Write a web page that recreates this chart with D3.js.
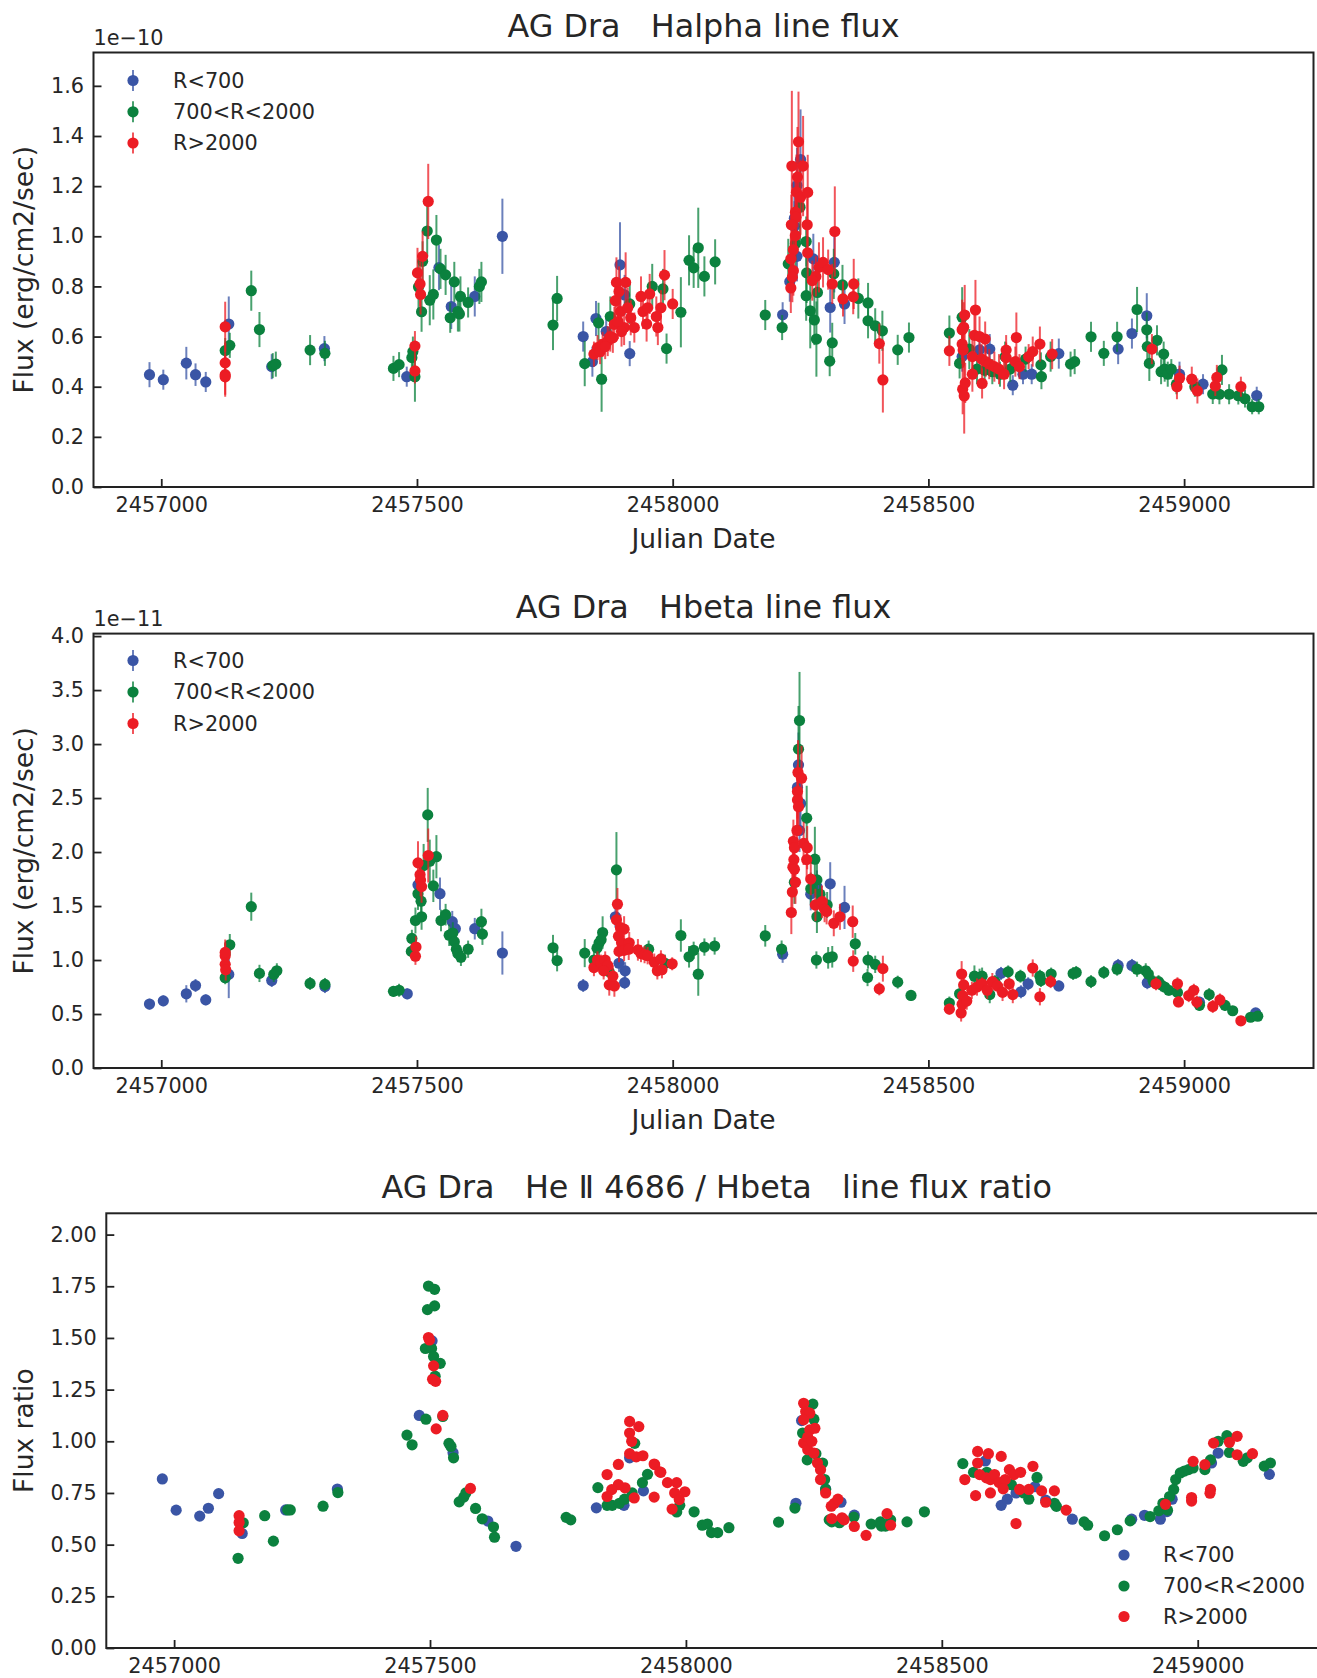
<!DOCTYPE html>
<html><head><meta charset="utf-8">
<script src="https://cdn.jsdelivr.net/npm/d3@7"></script>
<style>
body{margin:0;background:#fff}
svg{display:block;background:#fff}
text{font-family:"DejaVu Sans",sans-serif;fill:#262626;white-space:pre}
</style>
</head><body>
<svg id="chart" width="1317" height="1678" xmlns="http://www.w3.org/2000/svg"></svg>
<script>
// ---------------- DATA ----------------
const seriesNames = ["R<700", "700<R<2000", "R>2000"];
const seriesColors = ["#3a55a5", "#0b813e", "#ec1c24"];
const xTicks = [2457000, 2457500, 2458000, 2458500, 2459000];
const xDomain = [2456867.5, 2459253];

const titles = [
  "AG Dra   Halpha line flux",
  "AG Dra   Hbeta line flux",
  "AG Dra   He \u2161 4686 / Hbeta   line flux ratio"
];
const yLabels = ["Flux (erg/cm2/sec)", "Flux (erg/cm2/sec)", "Flux ratio"];
const offsetTexts = ["1e\u221210", "1e\u221211", ""];
const halphaTicks = [0.0, 0.2, 0.4, 0.6, 0.8, 1.0, 1.2, 1.4, 1.6];
const hbetaTicks = [0.0, 0.5, 1.0, 1.5, 2.0, 2.5, 3.0, 3.5, 4.0];
const ratioTicks = [0.00, 0.25, 0.50, 0.75, 1.00, 1.25, 1.50, 1.75, 2.00];

// Halpha flux, units of 1e-10: [JD, flux, error]
const halphaBlue = [
 [2456977,0.448,0.05],[2457004,0.428,0.04],[2457049,0.494,0.065],[2457067,0.448,0.045],[2457087,0.419,0.04],
 [2457132,0.65,0.11],[2457216,0.48,0.05],[2457319,0.552,0.05],[2457480,0.44,0.04],[2457543,0.875,0.09],
 [2457567,0.72,0.09],[2457613,0.76,0.08],[2457667,1.0,0.15],[2457825,0.6,0.06],[2457850,0.672,0.07],
 [2457843,0.50,0.06],[2457870,0.62,0.06],[2457897,0.886,0.17],[2457906,0.766,0.08],[2457916,0.532,0.05],
 [2458215,0.687,0.05],[2458250,1.306,0.2],[2458243,1.203,0.15],[2458238,1.072,0.12],[2458238,1.04,0.1],
 [2458243,0.92,0.1],[2458229,0.819,0.08],[2458275,0.91,0.1],[2458316,0.896,0.12],[2458308,0.716,0.1],
 [2458336,0.73,0.08],[2458566,0.52,0.06],[2458600,0.547,0.06],[2458620,0.55,0.06],[2458665,0.406,0.04],
 [2458685,0.45,0.04],[2458702,0.45,0.04],[2458755,0.532,0.06],[2458871,0.55,0.06],[2458898,0.612,0.06],
 [2458927,0.683,0.09],[2458991,0.45,0.05],[2459037,0.41,0.04],[2459142,0.365,0.035]
];
const halphaGreen = [
 [2457125,0.544,0.05],[2457134,0.565,0.05],[2457176,0.783,0.08],[2457192,0.628,0.07],[2457218,0.484,0.05],
 [2457224,0.49,0.05],[2457291,0.546,0.06],[2457320,0.533,0.05],[2457454,0.473,0.05],[2457465,0.488,0.05],
 [2457490,0.516,0.06],[2457492,0.54,0.06],[2457496,0.44,0.1],[2457503,0.798,0.1],[2457509,0.699,0.08],
 [2457511,0.90,0.08],[2457520,1.021,0.1],[2457525,0.745,0.1],[2457532,0.768,0.1],[2457538,0.985,0.1],
 [2457546,0.87,0.08],[2457556,0.846,0.08],[2457565,0.675,0.06],[2457573,0.818,0.08],[2457580,0.70,0.08],
 [2457583,0.69,0.07],[2457585,0.76,0.08],[2457600,0.736,0.06],[2457622,0.80,0.07],[2457626,0.818,0.08],
 [2457766,0.646,0.1],[2457774,0.752,0.09],[2457828,0.492,0.09],[2457855,0.655,0.08],[2457861,0.43,0.13],
 [2457878,0.68,0.08],[2457916,0.73,0.08],[2457960,0.80,0.09],[2457981,0.79,0.08],[2457988,0.552,0.06],
 [2458016,0.697,0.14],[2458032,0.904,0.1],[2458041,0.874,0.08],[2458050,0.954,0.16],[2458062,0.84,0.08],
 [2458083,0.898,0.09],[2458181,0.686,0.06],[2458214,0.636,0.05],[2458249,1.116,0.15],[2458261,0.979,0.1],
 [2458240,0.97,0.1],[2458226,0.89,0.1],[2458261,0.763,0.1],[2458262,0.854,0.12],[2458269,0.703,0.15],
 [2458277,0.666,0.1],[2458283,0.776,0.1],[2458281,0.59,0.15],[2458312,0.575,0.08],[2458307,0.502,0.06],
 [2458315,0.85,0.1],[2458332,0.806,0.08],[2458363,0.752,0.08],[2458382,0.734,0.08],[2458382,0.663,0.07],
 [2458396,0.643,0.07],[2458410,0.623,0.08],[2458440,0.547,0.06],[2458462,0.596,0.06],[2458541,0.614,0.07],
 [2458561,0.493,0.06],[2458566,0.677,0.12],[2458580,0.55,0.08],[2458595,0.47,0.06],[2458610,0.465,0.06],
 [2458625,0.46,0.05],[2458640,0.45,0.05],[2458650,0.52,0.06],[2458660,0.47,0.05],[2458690,0.51,0.05],
 [2458720,0.487,0.05],[2458721,0.44,0.05],[2458739,0.52,0.06],[2458778,0.49,0.05],[2458786,0.50,0.05],
 [2458818,0.599,0.06],[2458843,0.533,0.05],[2458869,0.599,0.06],[2458908,0.708,0.09],[2458927,0.627,0.07],
 [2458928,0.56,0.06],[2458932,0.493,0.07],[2458947,0.585,0.06],[2458955,0.46,0.05],[2458962,0.47,0.05],
 [2458968,0.45,0.05],[2458975,0.47,0.04],[2458960,0.53,0.05],[2458985,0.41,0.04],[2459021,0.40,0.04],
 [2459056,0.371,0.04],[2459069,0.37,0.04],[2459074,0.467,0.06],[2459088,0.37,0.04],[2459106,0.364,0.035],
 [2459119,0.352,0.035],[2459133,0.32,0.03],[2459146,0.32,0.03]
];
const halphaRed = [
 [2457125,0.639,0.1],[2457125,0.495,0.08],[2457125,0.448,0.08],[2457125,0.44,0.08],[2457496,0.562,0.06],
 [2457496,0.463,0.05],[2457501,0.854,0.1],[2457506,0.81,0.09],[2457507,0.768,0.08],[2457511,0.92,0.1],
 [2457522,1.139,0.15],[2457846,0.53,0.05],[2457853,0.556,0.05],[2457863,0.569,0.05],[2457873,0.582,0.06],
 [2457883,0.595,0.06],[2457886,0.649,0.07],[2457888,0.743,0.08],[2457890,0.816,0.1],[2457895,0.78,0.1],
 [2457898,0.70,0.08],[2457905,0.636,0.07],[2457908,0.816,0.12],[2457912,0.715,0.08],[2457918,0.675,0.07],
 [2457925,0.636,0.06],[2457938,0.76,0.08],[2457942,0.70,0.07],[2457949,0.65,0.07],[2457951,0.715,0.07],
 [2457955,0.77,0.08],[2457968,0.68,0.08],[2457971,0.636,0.07],[2457977,0.715,0.07],[2457984,0.845,0.1],
 [2458000,0.73,0.06],[2457858,0.54,0.05],[2457868,0.56,0.05],[2457878,0.60,0.06],[2457893,0.66,0.07],
 [2457900,0.62,0.06],[2458246,1.377,0.2],[2458233,1.28,0.3],[2458255,1.28,0.2],[2458244,1.236,0.2],
 [2458242,1.176,0.15],[2458250,1.156,0.15],[2458264,1.175,0.15],[2458240,1.096,0.15],[2458241,1.076,0.12],
 [2458232,1.046,0.12],[2458263,1.046,0.12],[2458240,1.003,0.1],[2458236,0.946,0.1],[2458264,0.934,0.1],
 [2458231,0.91,0.1],[2458236,0.863,0.1],[2458234,0.837,0.1],[2458231,0.794,0.1],[2458286,0.876,0.1],
 [2458294,0.896,0.1],[2458304,0.867,0.08],[2458280,0.84,0.08],[2458273,0.823,0.08],[2458317,1.019,0.18],
 [2458312,0.81,0.08],[2458333,0.75,0.07],[2458354,0.81,0.1],[2458353,0.759,0.07],[2458404,0.572,0.08],
 [2458411,0.427,0.13],[2458541,0.543,0.06],[2458566,0.627,0.12],[2458571,0.686,0.12],[2458569,0.637,0.1],
 [2458566,0.57,0.08],[2458568,0.546,0.07],[2458567,0.39,0.1],[2458570,0.363,0.15],[2458572,0.415,0.08],
 [2458586,0.52,0.08],[2458586,0.45,0.07],[2458592,0.706,0.12],[2458590,0.605,0.1],[2458600,0.60,0.08],
 [2458611,0.59,0.07],[2458604,0.51,0.06],[2458612,0.50,0.06],[2458619,0.49,0.06],[2458629,0.48,0.06],
 [2458638,0.47,0.06],[2458648,0.45,0.06],[2458605,0.413,0.06],[2458652,0.546,0.06],[2458652,0.516,0.06],
 [2458672,0.596,0.1],[2458670,0.50,0.06],[2458678,0.48,0.05],[2458696,0.52,0.05],[2458704,0.54,0.06],
 [2458718,0.57,0.07],[2458742,0.53,0.06],[2458937,0.55,0.06],[2458991,0.434,0.05],[2458986,0.40,0.05],
 [2459015,0.43,0.05],[2459026,0.383,0.05],[2459064,0.437,0.05],[2459061,0.403,0.04],[2459111,0.40,0.04]
];

// Hbeta flux, units of 1e-11: [JD, flux, error]
const hbetaBlue = [
 [2456977,0.592,0.05],[2457004,0.622,0.05],[2457049,0.687,0.08],[2457067,0.764,0.06],[2457087,0.631,0.05],
 [2457132,0.867,0.22],[2457216,0.81,0.06],[2457320,0.754,0.06],[2457481,0.687,0.05],[2457502,1.696,0.1],
 [2457545,1.614,0.15],[2457569,1.355,0.1],[2457575,1.29,0.1],[2457613,1.29,0.1],[2457667,1.065,0.2],
 [2457825,0.764,0.06],[2457888,1.40,0.1],[2457906,0.79,0.06],[2457907,0.9,0.08],[2457895,0.97,0.08],
 [2458215,1.054,0.08],[2458246,2.807,0.3],[2458244,2.60,0.2],[2458250,2.45,0.2],[2458248,2.2,0.2],
 [2458270,1.61,0.15],[2458282,1.68,0.15],[2458308,1.706,0.2],[2458336,1.487,0.2],[2458642,0.876,0.06],
 [2458681,0.706,0.06],[2458695,0.78,0.06],[2458755,0.76,0.05],[2458871,0.95,0.06],[2458898,0.95,0.06],
 [2458928,0.79,0.06],[2459030,0.61,0.05],[2459140,0.51,0.04]
];
const hbetaGreen = [
 [2457125,0.836,0.06],[2457134,1.141,0.1],[2457176,1.494,0.13],[2457192,0.876,0.08],[2457220,0.867,0.07],
 [2457226,0.9,0.07],[2457291,0.783,0.06],[2457320,0.774,0.06],[2457454,0.71,0.05],[2457465,0.72,0.06],
 [2457490,1.2,0.08],[2457489,1.08,0.06],[2457497,1.366,0.12],[2457502,1.614,0.15],[2457508,1.545,0.15],
 [2457509,1.4,0.12],[2457513,1.875,0.2],[2457521,2.344,0.25],[2457525,1.915,0.2],[2457532,1.687,0.15],
 [2457538,1.957,0.2],[2457547,1.366,0.1],[2457556,1.42,0.1],[2457563,1.23,0.1],[2457570,1.25,0.1],
 [2457573,1.17,0.1],[2457577,1.10,0.08],[2457580,1.06,0.08],[2457586,1.025,0.08],[2457600,1.10,0.08],
 [2457626,1.355,0.12],[2457628,1.24,0.1],[2457766,1.113,0.12],[2457774,0.995,0.1],[2457828,1.064,0.13],
 [2457846,1.0,0.08],[2457852,1.11,0.1],[2457856,1.157,0.12],[2457863,1.255,0.15],[2457860,1.187,0.1],
 [2457890,1.835,0.35],[2457876,0.89,0.08],[2457953,1.1,0.08],[2457985,0.97,0.08],[2458016,1.227,0.15],
 [2458032,1.03,0.1],[2458041,1.09,0.08],[2458050,0.869,0.2],[2458062,1.12,0.08],[2458082,1.13,0.08],
 [2458181,1.224,0.1],[2458213,1.101,0.08],[2458248,3.218,0.45],[2458246,2.953,0.4],[2458262,2.314,0.3],
 [2458278,1.934,0.3],[2458238,1.72,0.2],[2458282,1.742,0.2],[2458270,1.66,0.15],[2458288,1.61,0.15],
 [2458302,1.51,0.12],[2458282,1.40,0.15],[2458357,1.15,0.1],[2458281,1.0,0.08],[2458304,1.02,0.1],
 [2458312,1.03,0.1],[2458382,1.0,0.08],[2458396,0.96,0.08],[2458381,0.838,0.08],[2458440,0.795,0.06],
 [2458466,0.672,0.05],[2458541,0.602,0.06],[2458561,0.687,0.08],[2458590,0.85,0.1],[2458600,0.84,0.08],
 [2458605,0.85,0.08],[2458620,0.68,0.08],[2458630,0.80,0.06],[2458656,0.89,0.06],[2458680,0.85,0.06],
 [2458718,0.85,0.06],[2458720,0.81,0.06],[2458740,0.87,0.06],[2458783,0.875,0.06],[2458789,0.885,0.06],
 [2458818,0.80,0.06],[2458843,0.885,0.06],[2458869,0.915,0.06],[2458908,0.915,0.07],[2458925,0.9,0.07],
 [2458930,0.87,0.07],[2458940,0.80,0.06],[2458950,0.80,0.06],[2458955,0.77,0.06],[2458962,0.75,0.05],
 [2458970,0.72,0.05],[2458987,0.70,0.05],[2459030,0.58,0.05],[2459049,0.68,0.06],[2459080,0.58,0.05],
 [2459095,0.53,0.04],[2459130,0.47,0.04],[2459144,0.48,0.04]
];
const hbetaRed = [
 [2457125,1.04,0.12],[2457125,0.96,0.1],[2457126,0.91,0.1],[2457125,1.07,0.12],[2457497,1.035,0.08],
 [2457498,1.12,0.1],[2457502,1.9,0.2],[2457506,1.79,0.15],[2457507,1.74,0.15],[2457509,1.68,0.15],
 [2457522,1.968,0.25],[2457892,1.517,0.15],[2457890,1.372,0.15],[2457898,1.30,0.12],[2457905,1.286,0.12],
 [2457894,1.22,0.1],[2457900,1.16,0.1],[2457915,1.16,0.1],[2457895,1.08,0.1],[2457905,1.09,0.1],
 [2457914,1.10,0.1],[2457932,1.094,0.1],[2457938,1.06,0.08],[2457945,1.05,0.08],[2457951,1.04,0.08],
 [2457964,0.98,0.08],[2457970,0.90,0.08],[2457977,1.01,0.08],[2457979,0.91,0.08],[2457999,0.965,0.06],
 [2457846,0.93,0.08],[2457853,1.0,0.08],[2457860,0.97,0.08],[2457868,1.0,0.08],[2457873,0.95,0.08],
 [2457865,0.9,0.08],[2457876,0.77,0.1],[2457886,0.76,0.1],[2457883,0.85,0.1],[2458245,2.736,0.3],
 [2458252,2.684,0.3],[2458244,2.56,0.25],[2458244,2.483,0.25],[2458246,2.42,0.2],[2458243,2.2,0.2],
 [2458236,2.1,0.2],[2458238,2.04,0.2],[2458256,2.08,0.2],[2458263,2.04,0.2],[2458262,1.93,0.2],
 [2458237,1.93,0.2],[2458235,1.86,0.2],[2458238,1.84,0.2],[2458240,1.72,0.2],[2458234,1.63,0.2],
 [2458232,1.44,0.2],[2458270,1.75,0.15],[2458279,1.51,0.15],[2458292,1.54,0.15],[2458297,1.47,0.12],
 [2458301,1.45,0.12],[2458315,1.34,0.12],[2458327,1.40,0.12],[2458352,1.355,0.15],[2458353,0.99,0.1],
 [2458411,0.92,0.12],[2458404,0.733,0.06],[2458541,0.545,0.05],[2458564,0.51,0.08],[2458566,0.59,0.1],
 [2458565,0.87,0.12],[2458567,0.67,0.08],[2458569,0.77,0.1],[2458575,0.62,0.08],[2458585,0.72,0.08],
 [2458595,0.75,0.08],[2458605,0.78,0.06],[2458615,0.72,0.08],[2458625,0.80,0.08],[2458635,0.76,0.06],
 [2458645,0.70,0.08],[2458658,0.78,0.06],[2458665,0.68,0.08],[2458704,0.926,0.08],[2458718,0.66,0.08],
 [2458739,0.80,0.06],[2458945,0.78,0.06],[2458987,0.78,0.06],[2458989,0.612,0.05],[2459009,0.67,0.06],
 [2459019,0.72,0.06],[2459025,0.61,0.06],[2459056,0.57,0.06],[2459070,0.63,0.06],[2459111,0.437,0.04]
];

// He II 4686 / Hbeta ratio: [JD, ratio]
const ratioBlue = [
 [2456977,0.818],[2457004,0.667],[2457050,0.638],[2457067,0.676],[2457087,0.747],[2457133,0.554],
 [2457218,0.668],[2457319,0.769],[2457479,1.125],[2457504,1.486],[2457545,0.945],[2457613,0.614],
 [2457668,0.492],[2457825,0.678],[2457879,0.69],[2457917,0.76],[2457890,0.92],[2458215,0.70],
 [2458226,1.10],[2458273,0.77],[2458303,0.705],[2458329,0.643],[2458585,0.905],[2458616,0.69],
 [2458628,0.72],[2458645,0.75],[2458682,0.78],[2458703,0.715],[2458755,0.623],[2458871,0.623],
 [2458896,0.642],[2458927,0.623],[2458940,0.66],[2458950,0.72],[2459027,0.895],[2459040,0.943],[2459140,0.84]
];
const ratioGreen = [
 [2457125,0.434],[2457135,0.606],[2457177,0.64],[2457194,0.517],[2457222,0.668],[2457227,0.668],
 [2457291,0.686],[2457320,0.752],[2457455,1.03],[2457465,0.983],[2457492,1.107],[2457495,1.637],
 [2457497,1.751],[2457509,1.735],[2457509,1.655],[2457491,1.449],[2457503,1.449],[2457507,1.41],
 [2457520,1.377],[2457510,1.315],[2457525,1.12],[2457537,0.99],[2457541,0.975],[2457546,0.92],
 [2457557,0.707],[2457566,0.73],[2457570,0.75],[2457589,0.675],[2457602,0.625],[2457624,0.585],
 [2457626,0.536],[2457766,0.632],[2457775,0.62],[2457828,0.776],[2457846,0.69],[2457856,0.69],
 [2457870,0.70],[2457880,0.72],[2457895,0.75],[2457900,0.99],[2457915,0.80],[2457925,0.84],
 [2457988,0.69],[2457982,0.658],[2458016,0.659],[2458032,0.594],[2458042,0.60],[2458050,0.558],
 [2458062,0.558],[2458084,0.582],[2458181,0.609],[2458213,0.677],[2458248,1.18],[2458250,1.107],
 [2458228,1.04],[2458237,0.91],[2458254,0.94],[2458267,0.895],[2458271,0.815],[2458273,0.767],
 [2458280,0.62],[2458285,0.61],[2458300,0.606],[2458328,0.633],[2458362,0.60],[2458380,0.61],
 [2458382,0.59],[2458390,0.59],[2458400,0.62],[2458432,0.61],[2458466,0.659],[2458541,0.892],
 [2458562,0.85],[2458588,0.85],[2458620,0.80],[2458636,0.79],[2458670,0.72],[2458686,0.825],
 [2458660,0.75],[2458720,0.70],[2458724,0.685],[2458778,0.61],[2458785,0.594],[2458818,0.543],
 [2458843,0.572],[2458868,0.615],[2458907,0.636],[2458924,0.664],[2458932,0.70],[2458941,0.667],
 [2458945,0.733],[2458953,0.767],[2458957,0.815],[2458966,0.847],[2458974,0.856],[2458982,0.863],
 [2458991,0.871],[2459014,0.863],[2459025,0.91],[2459040,1.0],[2459057,1.027],[2459062,0.946],
 [2459089,0.903],[2459097,0.92],[2459130,0.88],[2459142,0.895]
];
const ratioRed = [
 [2457127,0.64],[2457127,0.607],[2457127,0.567],[2457497,1.502],[2457499,1.49],[2457507,1.365],
 [2457505,1.30],[2457511,1.29],[2457512,1.06],[2457525,1.125],[2457579,0.772],[2457846,0.839],
 [2457868,0.888],[2457890,1.096],[2457908,1.071],[2457890,1.04],[2457894,1.0],[2457890,0.94],
 [2457903,0.925],[2457916,0.93],[2457938,0.89],[2457951,0.85],[2457964,0.80],[2457982,0.80],
 [2457998,0.756],[2457973,0.672],[2457938,0.73],[2457978,0.75],[2457987,0.718],[2457899,0.726],
 [2457881,0.775],[2457868,0.79],[2457855,0.766],[2457846,0.733],[2457939,0.887],[2457949,0.852],
 [2458230,1.184],[2458234,1.144],[2458242,1.136],[2458230,1.104],[2458242,1.055],[2458252,1.063],
 [2458230,0.991],[2458238,0.959],[2458250,0.943],[2458257,0.895],[2458263,0.862],[2458263,0.815],
 [2458238,1.02],[2458246,1.0],[2458273,0.75],[2458284,0.686],[2458290,0.70],[2458297,0.72],
 [2458285,0.626],[2458305,0.63],[2458309,0.62],[2458329,0.588],[2458352,0.545],[2458393,0.65],
 [2458400,0.594],[2458545,0.815],[2458570,0.951],[2458591,0.94],[2458616,0.927],[2458570,0.895],
 [2458574,0.839],[2458587,0.823],[2458595,0.815],[2458603,0.839],[2458612,0.80],[2458624,0.815],
 [2458632,0.863],[2458641,0.839],[2458654,0.85],[2458678,0.879],[2458566,0.737],[2458595,0.75],
 [2458620,0.77],[2458645,0.602],[2458652,0.767],[2458670,0.767],[2458695,0.76],[2458720,0.76],
 [2458703,0.705],[2458743,0.667],[2458937,0.695],[2458988,0.711],[2458988,0.728],[2458991,0.903],
 [2459014,0.887],[2459025,0.767],[2459024,0.749],[2459031,0.991],[2459062,0.995],[2459077,1.024],
 [2459077,0.935],[2459107,0.94]
];

// ---------------- LAYOUT (built from the arrays above) ----------------
const panels = [
  {title: titles[0], ylab: yLabels[0], off: offsetTexts[0], ticks: halphaTicks, fmt: d3.format(".1f"),
   ymax: 1.733, left: 93.5, right: 1313.5, top: 52.5, bottom: 487, titleY: 36.5, xlabY: 548,
   series: [halphaBlue, halphaGreen, halphaRed], err: true,
   legend: {x: 133, tx: 173, ys: [80.5, 111.8, 143]}},
  {title: titles[1], ylab: yLabels[1], off: offsetTexts[1], ticks: hbetaTicks, fmt: d3.format(".1f"),
   ymax: 4.023, left: 93.5, right: 1313.5, top: 633.6, bottom: 1068, titleY: 618.2, xlabY: 1129,
   series: [hbetaBlue, hbetaGreen, hbetaRed], err: true,
   legend: {x: 133, tx: 173, ys: [660.5, 692, 723.5]}},
  {title: titles[2], ylab: yLabels[2], off: offsetTexts[2], ticks: ratioTicks, fmt: d3.format(".2f"),
   ymax: 2.103, left: 106.3, right: 1327.2, top: 1213.3, bottom: 1648, titleY: 1197.5, xlabY: null,
   series: [ratioBlue, ratioGreen, ratioRed], err: false,
   legend: {x: 1124, tx: 1163, ys: [1555, 1586, 1616.5]}}
];

const svg = d3.select("#chart");
svg.append("rect").attr("width", 1317).attr("height", 1678).attr("fill", "#fff");

const TICK_FS = 20.8, LABEL_FS = 26.5, TITLE_FS = 31.8, R = 5.6;

panels.forEach(p => {
  const x = d3.scaleLinear().domain(xDomain).range([p.left, p.right]);
  const y = d3.scaleLinear().domain([0, p.ymax]).range([p.bottom, p.top]);
  const g = svg.append("g");

  // data
  p.series.forEach((data, i) => {
    const col = seriesColors[i];
    if (p.err) {
      g.append("g").selectAll("line").data(data).enter().append("line")
        .attr("x1", d => x(d[0])).attr("x2", d => x(d[0]))
        .attr("y1", d => y(d[1] - d[2])).attr("y2", d => y(d[1] + d[2]))
        .attr("stroke", col).attr("stroke-width", 2).attr("stroke-opacity", 0.75);
    }
    g.append("g").selectAll("circle").data(data).enter().append("circle")
      .attr("cx", d => x(d[0])).attr("cy", d => y(d[1])).attr("r", R).attr("fill", col);
  });

  // axes
  const xa = g.append("g").attr("transform", `translate(0,${p.bottom})`)
    .call(d3.axisBottom(x).tickValues(xTicks).tickFormat(d3.format("d"))
      .tickSizeInner(-8).tickSizeOuter(0).tickPadding(10));
  const ya = g.append("g").attr("transform", `translate(${p.left},0)`)
    .call(d3.axisLeft(y).tickValues(p.ticks).tickFormat(p.fmt)
      .tickSizeInner(-8).tickSizeOuter(0).tickPadding(9.5));
  [xa, ya].forEach(a => {
    a.attr("font-family", null).attr("font-size", null);
    a.select(".domain").remove();
    a.selectAll(".tick line").attr("stroke", "#222").attr("stroke-width", 1.8);
    a.selectAll(".tick text").attr("fill", "#262626").style("font-size", TICK_FS + "px");
  });

  // spines
  g.append("rect").attr("x", p.left).attr("y", p.top)
    .attr("width", p.right - p.left).attr("height", p.bottom - p.top)
    .attr("fill", "none").attr("stroke", "#222").attr("stroke-width", 2);

  // title
  g.append("text").attr("x", (p.left + p.right) / 2).attr("y", p.titleY)
    .attr("text-anchor", "middle").attr("xml:space", "preserve")
    .style("font-size", TITLE_FS + "px").text(p.title);

  // y label
  g.append("text").attr("transform", `translate(33,${(p.top + p.bottom) / 2}) rotate(-90)`)
    .attr("text-anchor", "middle").style("font-size", LABEL_FS + "px").text(p.ylab);

  // x label
  if (p.xlabY) {
    g.append("text").attr("x", (p.left + p.right) / 2).attr("y", p.xlabY)
      .attr("text-anchor", "middle").style("font-size", LABEL_FS + "px").text("Julian Date");
  }

  // offset text
  if (p.off) {
    g.append("text").attr("x", p.left).attr("y", p.top - 8)
      .style("font-size", TICK_FS + "px").text(p.off);
  }

  // legend
  seriesNames.forEach((name, i) => {
    const ly = p.legend.ys[i];
    if (p.err) {
      g.append("line").attr("x1", p.legend.x).attr("x2", p.legend.x)
        .attr("y1", ly - 10.5).attr("y2", ly + 10.5)
        .attr("stroke", seriesColors[i]).attr("stroke-width", 2).attr("stroke-opacity", 0.75);
    }
    g.append("circle").attr("cx", p.legend.x).attr("cy", ly).attr("r", R).attr("fill", seriesColors[i]);
    g.append("text").attr("x", p.legend.tx).attr("y", ly).attr("dy", "0.36em")
      .style("font-size", TICK_FS + "px").text(name);
  });
});
</script>
</body></html>
